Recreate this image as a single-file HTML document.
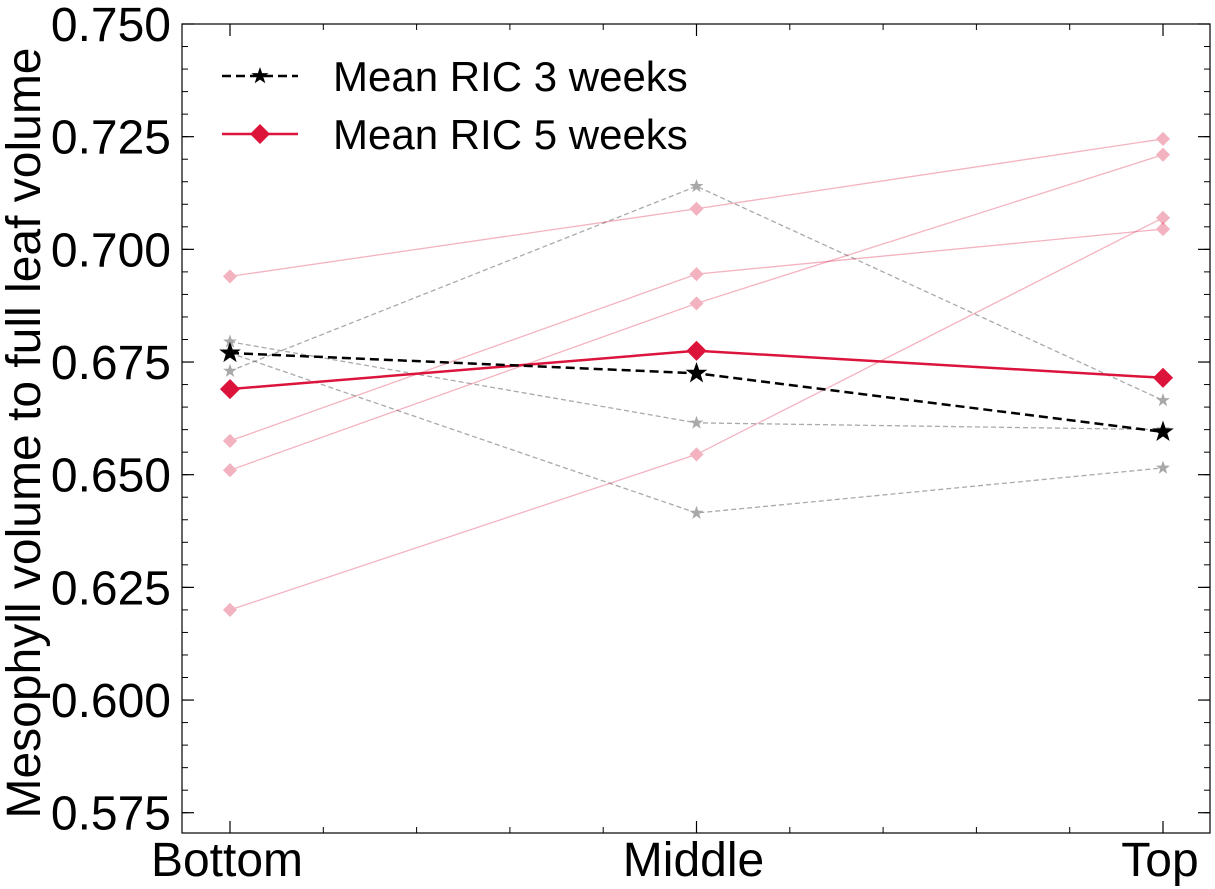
<!DOCTYPE html>
<html><head><meta charset="utf-8"><style>
body{margin:0;background:#fff;}
svg{display:block;font-family:"Liberation Sans",sans-serif;}
</style></head><body>
<svg id="chart" width="1215" height="889" xmlns="http://www.w3.org/2000/svg">
<g id="g"></g>
</svg>
<script>
const categories=["Bottom","Middle","Top"];
const yTicks=[0.575,0.600,0.625,0.650,0.675,0.700,0.725,0.750];
const yTickLabels=["0.575","0.600","0.625","0.650","0.675","0.700","0.725","0.750"];
const mean3=[0.677,0.6725,0.6595];
const mean5=[0.669,0.6775,0.6715];
const ind3a=[0.6795,0.6615,0.6600];
const ind3b=[0.673,0.714,0.6665];
const ind3c=[0.677,0.6415,0.6515];
const ind5a=[0.694,0.709,0.7245];
const ind5b=[0.6575,0.6945,0.7045];
const ind5c=[0.651,0.688,0.721];
const ind5d=[0.620,0.6545,0.707];

const L=182,R=1210,T=24,B=833,yMin=0.5705,yMax=0.750;
const xs=i=>230+i*466.5;
const ys=v=>T+(yMax-v)/(yMax-yMin)*(B-T);
const NS="http://www.w3.org/2000/svg";
const g=document.getElementById('g');
function mk(tag,attrs,parent){const e=document.createElementNS(NS,tag);for(const k in attrs)e.setAttribute(k,attrs[k]);(parent||g).appendChild(e);return e;}
function star(cx,cy,r){let p=[];for(let i=0;i<10;i++){const a=-Math.PI/2+i*Math.PI/5;const rr=i%2?r*0.4:r;p.push((cx+rr*Math.cos(a)).toFixed(1)+","+(cy+rr*Math.sin(a)).toFixed(1));}return p.join(" ");}
function diamond(cx,cy,r){return `${cx},${cy-r} ${cx+r},${cy} ${cx},${cy+r} ${cx-r},${cy}`;}
function series(vals,name,color,width,dash,marker,ms,opacity){
  const grp=mk('g',{opacity:opacity});
  
  
  mk('polyline',{points:vals.map((v,i)=>xs(i)+","+ys(v)).join(" "),fill:"none",stroke:color,"stroke-width":width,"stroke-dasharray":dash},grp);
  vals.forEach((v,i)=>{
    const pts=marker==='star'?star(xs(i),ys(v),ms):diamond(xs(i),ys(v),ms);
    const m=mk('polygon',{points:pts,fill:color,stroke:color,"stroke-width":1.5},grp);
    
    
  });
}
const fr=mk('rect',{x:L,y:T,width:R-L,height:B-T,fill:"none",stroke:"#000","stroke-width":1.2});


yTicks.forEach((v,i)=>{
  mk('line',{x1:L,x2:L+12,y1:ys(v),y2:ys(v),stroke:"#000","stroke-width":1.2});
  mk('line',{x1:R,x2:R-12,y1:ys(v),y2:ys(v),stroke:"#000","stroke-width":1.2});
  const t=mk('text',{x:L-11,y:ys(v)+17,"text-anchor":"end","font-size":48});
  t.textContent=yTickLabels[i];
  
  
});
for(let v=0.575;v<0.7501;v+=0.005){
  mk('line',{x1:L,x2:L+6,y1:ys(v),y2:ys(v),stroke:"#000","stroke-width":1});
  mk('line',{x1:R,x2:R-6,y1:ys(v),y2:ys(v),stroke:"#000","stroke-width":1});
}
categories.forEach((c,i)=>{
  mk('line',{x1:xs(i),x2:xs(i),y1:B,y2:B-12,stroke:"#000","stroke-width":1.2});
  mk('line',{x1:xs(i),x2:xs(i),y1:T,y2:T+12,stroke:"#000","stroke-width":1.2});
  const t=mk('text',{x:xs(i)-3,y:876,"text-anchor":"middle","font-size":48});
  t.textContent=c;
  
  
});
for(let k=-1;k<=11;k++){const x=230+k*93.3;if(x>L&&x<R&&k%5!==0){
  mk('line',{x1:x,x2:x,y1:B,y2:B-6,stroke:"#000","stroke-width":1});
  mk('line',{x1:x,x2:x,y1:T,y2:T+6,stroke:"#000","stroke-width":1});}}
const yt=mk('text',{x:0,y:0,transform:"translate(40,433) rotate(-90)","text-anchor":"middle","font-size":48});
yt.textContent="Mesophyll volume to full leaf volume";


series(ind3a,'rep-3w-a','#555',1.3,'5,3','star',5,0.5);
series(ind3b,'rep-3w-b','#555',1.3,'5,3','star',5,0.5);
series(ind3c,'rep-3w-c','#555',1.3,'5,3','star',5,0.5);
series(ind5a,'rep-5w-a','#dc143c',1.3,'none','diamond',6,0.32);
series(ind5b,'rep-5w-b','#dc143c',1.3,'none','diamond',6,0.32);
series(ind5c,'rep-5w-c','#dc143c',1.3,'none','diamond',6,0.32);
series(ind5d,'rep-5w-d','#dc143c',1.3,'none','diamond',6,0.32);
series(mean5,'mean-5-weeks','#dc143c',2.5,'none','diamond',9,1);
series(mean3,'mean-3-weeks','#000',2.5,'9,5','star',9,1);
const lg=mk('g',{});


mk('line',{x1:222,x2:298,y1:76,y2:76,stroke:"#000","stroke-width":2.5,"stroke-dasharray":"9,5"},lg);
mk('polygon',{points:star(260,76,9),fill:"#000"},lg);
mk('line',{x1:222,x2:298,y1:134,y2:134,stroke:"#dc143c","stroke-width":2.5},lg);
mk('polygon',{points:diamond(260,134,10),fill:"#dc143c"},lg);
const l1=mk('text',{x:333,y:91,"font-size":42},lg);l1.textContent="Mean RIC 3 weeks";


const l2=mk('text',{x:333,y:149,"font-size":42},lg);l2.textContent="Mean RIC 5 weeks";


</script>
</body></html>
